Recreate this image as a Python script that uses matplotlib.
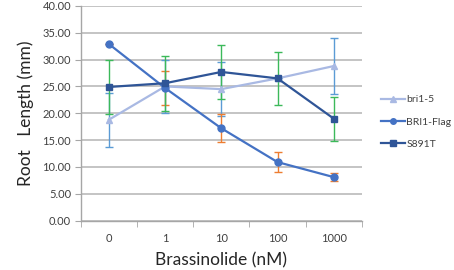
import matplotlib
matplotlib.use("Agg")
import matplotlib.pyplot as plt
import numpy as np

categories = ["0", "1", "10", "100", "1000"]
bri15 = [18.8, 25.0, 24.5, 26.5, 28.8]
bri15_err = [5.0, 5.0, 5.0, 0.0, 5.2]
flag = [32.9, 24.7, 17.2, 10.9, 8.1]
flag_err = [0.0, 3.1, 2.6, 1.9, 0.8]
s891t = [24.9, 25.6, 27.7, 26.5, 19.0]
s891t_err = [5.0, 5.1, 5.0, 5.0, 4.1]
yticks = [0, 5, 10, 15, 20, 25, 30, 35, 40]

plt.rcParams['font.family'] = ['Lato', 'DejaVu Sans']
fig = plt.figure(figsize=(4.54, 2.70), dpi=100)
ax = fig.add_axes([0.178, 0.183, 0.619, 0.795])
x = np.arange(len(categories))

ax.errorbar(x, bri15, yerr=bri15_err, fmt='none', ecolor='#5b9bd5', elinewidth=1.0, capsize=3, capthick=1.0, zorder=2)
ax.errorbar(x, flag, yerr=flag_err, fmt='none', ecolor='#ed7d31', elinewidth=1.0, capsize=3, capthick=1.0, zorder=2)
ax.errorbar(x, s891t, yerr=s891t_err, fmt='none', ecolor='#3cb95a', elinewidth=1.0, capsize=3, capthick=1.0, zorder=2)

l1, = ax.plot(x, bri15, color='#a9b9e3', marker='^', markersize=5, linewidth=1.6, label='bri1-5', zorder=3)
l2, = ax.plot(x, flag, color='#4472c4', marker='o', markersize=5, linewidth=1.6, label='BRI1-Flag', zorder=4)
l3, = ax.plot(x, s891t, color='#2f5597', marker='s', markersize=5, linewidth=1.6, label='S891T', zorder=5)

ax.set_xlim(-0.5, len(categories) - 0.5)
ax.set_ylim(0, 40)
ax.set_yticks(yticks)
ax.set_yticklabels([f"{v:.2f}" for v in yticks])
ax.set_xticks(x)
ax.set_xticklabels(categories)
ax.set_xticks(np.arange(-0.5, len(categories), 1.0), minor=True)
ax.tick_params(axis='x', which='major', length=0, pad=9, labelsize=8, labelcolor='#404040')
ax.tick_params(axis='x', which='minor', length=4, color='#a6a6a6', direction='out')
ax.tick_params(axis='y', length=4, color='#a6a6a6', labelsize=8, labelcolor='#404040', pad=3)
ax.grid(axis='y', color='#bfbfbf', linewidth=1.3)
ax.set_axisbelow(True)
for s in ['top', 'right']:
    ax.spines[s].set_visible(False)
ax.spines['left'].set_color('#a6a6a6')
ax.spines['bottom'].set_color('#a6a6a6')
ax.spines['bottom'].set_linewidth(1.0)
ax.spines['left'].set_linewidth(1.0)

ax.set_xlabel("Brassinolide (nM)", fontsize=12.5, color='#262626', labelpad=6)
ax.set_ylabel("Root   Length (mm)", fontsize=12.5, color='#262626', labelpad=6)

leg = fig.legend(handles=[l1, l2, l3], loc='center left', bbox_to_anchor=(0.818, 0.548),
                 frameon=False, fontsize=7.5, handlelength=2.3, labelspacing=1.25, handletextpad=0.15,
                 markerscale=0.8, borderpad=0.4)
for t in leg.get_texts():
    t.set_color('#404040')

fig.savefig("out.png", dpi=100)
